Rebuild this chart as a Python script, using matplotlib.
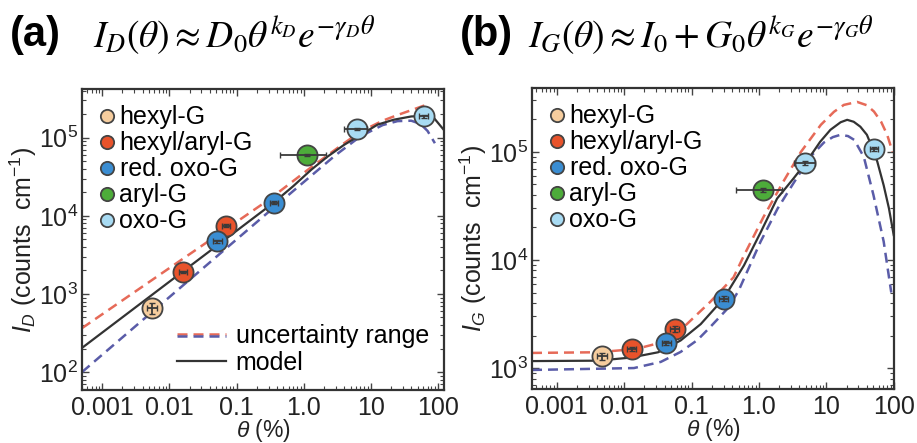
import numpy as np
import matplotlib
matplotlib.use('Agg')
import matplotlib.pyplot as plt
from matplotlib.lines import Line2D
from matplotlib.legend_handler import HandlerLine2D, HandlerTuple
from matplotlib.ticker import FixedLocator, FixedFormatter, LogLocator, NullFormatter

plt.rcParams['font.family'] = ['Liberation Sans', 'DejaVu Sans']
plt.rcParams['mathtext.fontset'] = 'custom'
plt.rcParams['mathtext.rm'] = 'Liberation Sans'
plt.rcParams['mathtext.it'] = 'Liberation Sans:italic'
plt.rcParams['mathtext.bf'] = 'Liberation Sans:bold'

# === legend groups and colours ===
groups = ['hexyl-G', 'hexyl/aryl-G', 'red. oxo-G', 'aryl-G', 'oxo-G']
group_colors = ['#f6cd9e', '#e8532b', '#3a8dd2', '#4dac3a', '#a8dbf3']

# === panel (a): I_D data points ===
a_group = ['hexyl-G', 'hexyl/aryl-G', 'hexyl/aryl-G', 'red. oxo-G', 'red. oxo-G', 'aryl-G', 'oxo-G', 'oxo-G']
a_theta = [0.0055, 0.016, 0.069, 0.052, 0.36, 1.11, 6.2, 61]
a_I = [655, 1900, 7500, 4700, 14800, 60000, 130000, 187000]
a_theta_lo = [0.0046, 0.0138, 0.060, 0.045, 0.31, 0.45, 4.0, 53]
a_theta_hi = [0.0065, 0.0185, 0.079, 0.060, 0.42, 2.13, 8.9, 70]
a_I_lo = [560, 1830, 7200, 4500, 14200, 57500, 125000, 180000]
a_I_hi = [760, 1970, 7800, 4900, 15400, 62500, 135000, 194000]

# panel (a) curves
a_model_theta = [5.0e-4, 0.36, 0.7, 1.3, 2.25, 4.0, 7.1, 12.6, 22, 40, 63, 88, 123]
a_model_I = [204, 14800, 24000, 39000, 57000, 81000, 109000, 147000, 170000, 187000, 190000, 177000, 125000]
a_upper_theta = [5.0e-4, 0.3, 1.3, 4.0, 7.1, 15, 25, 40, 60, 75]
a_upper_I = [365, 16000, 42000, 85000, 120000, 165000, 195000, 225000, 255000, 270000]
a_lower_theta = [5.0e-4, 0.3, 1.0, 3.0, 7.0, 15, 25, 40, 55, 70, 90]
a_lower_I = [100, 11200, 27000, 60000, 104000, 145000, 163000, 165000, 150000, 122000, 85000]

# === panel (b): I_G data points ===
b_group = ['hexyl-G', 'hexyl/aryl-G', 'hexyl/aryl-G', 'red. oxo-G', 'red. oxo-G', 'aryl-G', 'oxo-G', 'oxo-G']
b_theta = [0.0047, 0.013, 0.056, 0.042, 0.30, 1.14, 4.9, 51]
b_I = [1280, 1490, 2300, 1700, 4400, 44500, 78500, 106000]
b_theta_lo = [0.0040, 0.0112, 0.048, 0.036, 0.26, 0.45, 3.3, 44]
b_theta_hi = [0.0055, 0.0151, 0.065, 0.049, 0.35, 2.2, 6.9, 59]
b_I_lo = [1180, 1430, 2150, 1630, 4200, 42500, 75000, 101000]
b_I_hi = [1390, 1550, 2450, 1770, 4600, 46500, 82000, 111000]

# panel (b) curves
b_model_theta = [4.3e-4, 0.004, 0.0126, 0.032, 0.069, 0.137, 0.30, 0.6, 1.06, 1.86, 3.28, 4.9,
                 8.1, 11.5, 16.3, 20.4, 25.5, 32, 40, 49, 57, 71, 85, 100]
b_model_I = [1160, 1170, 1250, 1400, 1800, 2550, 4400, 8900, 18000, 37000, 57000, 78500,
             124000, 160000, 188000, 198000, 190000, 171000, 144000, 106000, 81500, 49000, 30000, 17000]
b_upper_theta = [4.3e-4, 0.004, 0.015, 0.035, 0.077, 0.19, 0.42, 0.6, 1.17, 2.3, 4.2, 8.3,
                 13, 18.2, 28.6, 40, 51, 65, 80, 96]
b_upper_I = [1380, 1400, 1500, 1720, 2400, 4100, 6900, 11000, 25000, 53000, 100000, 178000,
             235000, 272000, 290000, 270000, 236000, 190000, 144000, 100000]
b_lower_theta = [4.3e-4, 0.014, 0.035, 0.069, 0.123, 0.19, 0.35, 0.5, 1.06, 1.9, 3.3, 5.8,
                 9.2, 12.5, 16.3, 21, 26, 36, 50, 71, 92]
b_lower_I = [960, 1000, 1140, 1410, 1820, 2400, 3600, 5200, 14800, 30000, 52000, 90000,
             122000, 137000, 144000, 140000, 129000, 90000, 40000, 14800, 5000]

x_ticks = [0.001, 0.01, 0.1, 1.0, 10, 100]
x_ticklabels = ['0.001', '0.01', '0.1', '1.0', '10', '100']
y_ticks_a = [1e2, 1e3, 1e4, 1e5]
y_ticks_b = [1e3, 1e4, 1e5]

RED = '#e66a58'
BLUE = '#5a5ca8'
BLACK = '#333333'
DASH = (0, (4, 2.4))
FS = 18


class ShiftedLine(HandlerLine2D):
    # legend line nudged up/down so red and blue dashes sit on top of each other
    def __init__(self, dy, **kw):
        super().__init__(**kw)
        self.dy = dy

    def create_artists(self, legend, orig_handle, xdescent, ydescent, width, height, fontsize, trans):
        return super().create_artists(legend, orig_handle, xdescent, ydescent + self.dy,
                                      width, height, fontsize, trans)


def setup_axes(ax, xlim, ylim, yticks, ylabel):
    ax.set_xscale('log')
    ax.set_yscale('log')
    ax.set_xlim(*xlim)
    ax.set_ylim(*ylim)
    ax.xaxis.set_major_locator(FixedLocator(x_ticks))
    ax.xaxis.set_major_formatter(FixedFormatter(x_ticklabels))
    ax.xaxis.set_minor_locator(LogLocator(base=10, subs=np.arange(2, 10), numticks=20))
    ax.xaxis.set_minor_formatter(NullFormatter())
    ax.yaxis.set_major_locator(FixedLocator(yticks))
    ax.yaxis.set_minor_locator(LogLocator(base=10, subs=np.arange(2, 10), numticks=20))
    ax.yaxis.set_minor_formatter(NullFormatter())
    ax.tick_params(which='both', direction='in', top=True, right=True, colors='#444444',
                   labelcolor='#222222', labelsize=FS)
    ax.tick_params(which='major', length=5, width=1.0)
    ax.tick_params(which='minor', length=3, width=0.8)
    ax.tick_params(axis='x', pad=4)
    ax.tick_params(axis='y', pad=3)
    for s in ax.spines.values():
        s.set_color('#333333')
        s.set_linewidth(1.6)
    ax.set_xlabel(r'$\theta$ (%)', fontsize=16.5, labelpad=-1.5, color='#222222')
    ax.set_ylabel(ylabel, fontsize=FS, labelpad=0, color='#222222')


def draw_points(ax, pt_group, th, I, th_lo, th_hi, I_lo, I_hi):
    for g, c in zip(groups, group_colors):
        idx = [i for i, n in enumerate(pt_group) if n == g]
        x = np.array([th[i] for i in idx])
        y = np.array([I[i] for i in idx])
        xlo = np.array([th_lo[i] for i in idx])
        xhi = np.array([th_hi[i] for i in idx])
        ylo = np.array([I_lo[i] for i in idx])
        yhi = np.array([I_hi[i] for i in idx])
        ax.plot(x, y, 'o', ms=14.5, mfc=c, mec='#444444', mew=1.3, ls='none', label=g, zorder=3)
        ax.errorbar(x, y, xerr=[x - xlo, xhi - x], yerr=[y - ylo, yhi - y], fmt='none',
                    ecolor='#3a3a3a', elinewidth=1.3, capsize=2, capthick=1.0, zorder=4)


def group_legend(ax):
    return ax.legend(loc='upper left', fontsize=FS, markerscale=0.66, handlelength=0.7,
                     handletextpad=0.15, labelspacing=0.08, borderaxespad=0.3,
                     borderpad=0.35, frameon=False)


fig = plt.figure(figsize=(9.17, 4.43), dpi=100)
W, H = 917.0, 443.0

# --- panel (a) ---
ax1 = fig.add_axes([82 / W, 1 - 390 / H, 362 / W, 301 / H])
ax1.plot(a_upper_theta, a_upper_I, color=RED, lw=1.8, ls=DASH, zorder=2)
ax1.plot(a_lower_theta, a_lower_I, color=BLUE, lw=1.8, ls=DASH, zorder=2)
ax1.plot(a_model_theta, a_model_I, color=BLACK, lw=1.6, zorder=2)
draw_points(ax1, a_group, a_theta, a_I, a_theta_lo, a_theta_hi, a_I_lo, a_I_hi)
setup_axes(ax1, (5.0e-4, 123), (59, 4.2e5), y_ticks_a, r'$I_D$ (counts  cm$^{-1}$)')

leg1 = group_legend(ax1)
ax1.add_artist(leg1)
red_h = Line2D([], [], color=RED, lw=1.8, ls=DASH)
blue_h = Line2D([], [], color=BLUE, lw=1.8, ls=DASH)
model_h = Line2D([], [], color=BLACK, lw=1.6)
ax1.legend([(red_h, blue_h), model_h], ['uncertainty range', 'model'], loc='lower right',
           fontsize=FS, handlelength=1.95, handletextpad=0.4, labelspacing=0.1,
           borderaxespad=0.2, frameon=False,
           handler_map={tuple: HandlerTuple(ndivide=1), red_h: ShiftedLine(-1.3), blue_h: ShiftedLine(1.3)})

# --- panel (b) ---
ax2 = fig.add_axes([532 / W, 1 - 389 / H, 362 / W, 301 / H])
ax2.plot(b_upper_theta, b_upper_I, color=RED, lw=1.8, ls=DASH, zorder=2)
ax2.plot(b_lower_theta, b_lower_I, color=BLUE, lw=1.8, ls=DASH, zorder=2)
ax2.plot(b_model_theta, b_model_I, color=BLACK, lw=1.6, zorder=2)
draw_points(ax2, b_group, b_theta, b_I, b_theta_lo, b_theta_hi, b_I_lo, b_I_hi)
setup_axes(ax2, (4.3e-4, 101), (640, 3.9e5), y_ticks_b, r'$I_G$ (counts  cm$^{-1}$)')
group_legend(ax2)

# --- panel titles ---
fig.text(10 / W, 1 - 35 / H, '(a)', fontsize=30, fontweight='bold', va='center', ha='left')
fig.text(93 / W, 1 - 35 / H, r'$I_D(\theta) \approx D_0\theta^{k_D}e^{-\gamma_D\theta}$',
         fontsize=27, va='center', ha='left', math_fontfamily='stix')
fig.text(460 / W, 1 - 35 / H, '(b)', fontsize=30, fontweight='bold', va='center', ha='left')
fig.text(528 / W, 1 - 35 / H, r'$I_G(\theta) \approx I_0 + G_0\theta^{k_G}e^{-\gamma_G\theta}$',
         fontsize=27, va='center', ha='left', math_fontfamily='stix')

fig.savefig('out.png', dpi=100)
